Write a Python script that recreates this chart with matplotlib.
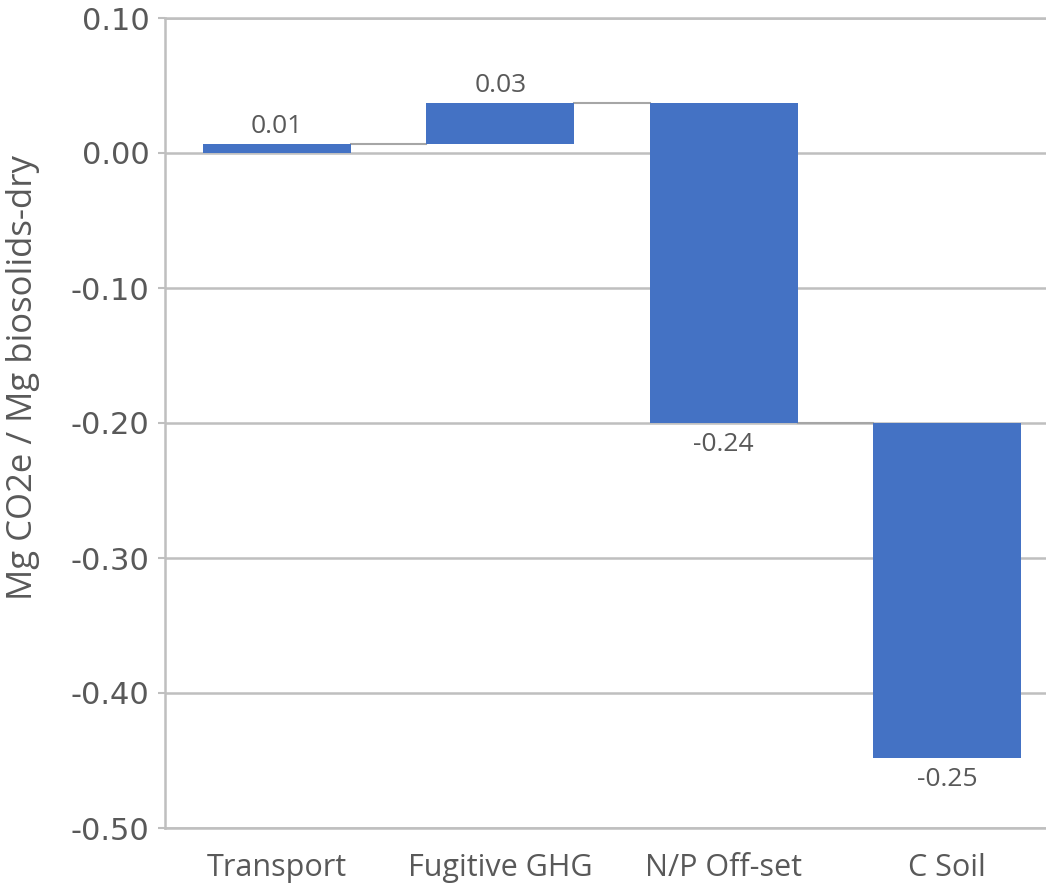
import matplotlib
matplotlib.use("Agg")
import matplotlib.pyplot as plt
import numpy as np

categories = ["Transport", "Fugitive GHG", "N/P Off-set", "C Soil"]
values = [0.007, 0.030, -0.237, -0.248]
value_labels = ["0.01", "0.03", "-0.24", "-0.25"]
yticks = [0.10, 0.00, -0.10, -0.20, -0.30, -0.40, -0.50]
ylabel = "Mg CO2e / Mg biosolids-dry"

bar_color = "#4472C4"
text_color = "#595959"
grid_color = "#BFBFBF"
narrow = ["Open Sans", "DejaVu Sans"]

fig = plt.figure(figsize=(10.46, 8.89), dpi=100)
ax = fig.add_axes([165/1046, 1-828/889, (1059-165)/1046, (828-18)/889])

vals = np.array(values)
ends = np.cumsum(vals)
starts = ends - vals
x = np.arange(len(categories))
w = 0.66
ax.bar(x, vals, bottom=starts, width=w, color=bar_color, zorder=3)

# connectors
for i in range(len(categories) - 1):
    ax.plot([x[i] + w/2, x[i+1] - w/2], [ends[i], ends[i]], color="#A6A6A6", lw=1.5, zorder=2)

# labels
for i, (s, e, v) in enumerate(zip(starts, ends, vals)):
    if v >= 0:
        ytop = max(s, e)
        ax.annotate(value_labels[i], (x[i], ytop), xytext=(0, 5), textcoords="offset pixels",
                    ha="center", va="bottom", fontsize=19, color=text_color, family=narrow)
    else:
        ybot = min(s, e)
        ax.annotate(value_labels[i], (x[i], ybot), xytext=(0, -9), textcoords="offset pixels",
                    ha="center", va="top", fontsize=19, color=text_color, family=narrow)

ax.set_xlim(-0.5, 3.5)
ax.set_ylim(-0.50, 0.10)
ax.set_yticks(yticks)
ax.set_yticklabels([f"{t:.2f}" for t in yticks], fontsize=22, color=text_color, family="DejaVu Sans")
ax.set_xticks(x)
ax.set_xticklabels(categories, fontsize=22, color=text_color, family=narrow)
ax.tick_params(axis="x", length=0, pad=18)
ax.tick_params(axis="y", length=5, width=1.5, color=grid_color, pad=6)
ax.yaxis.grid(True, color=grid_color, lw=1.8, zorder=0)
ax.set_axisbelow(True)
for side in ["left", "bottom", "top"]:
    ax.spines[side].set_color(grid_color)
    ax.spines[side].set_linewidth(1.8)
ax.spines["right"].set_visible(False)
ax.set_ylabel(ylabel, fontsize=25, color=text_color, family=narrow)
ax.yaxis.set_label_coords(-(165-40)/(1059-165), 1 - (378-18)/(828-18))

fig.savefig("out.png", dpi=100)
